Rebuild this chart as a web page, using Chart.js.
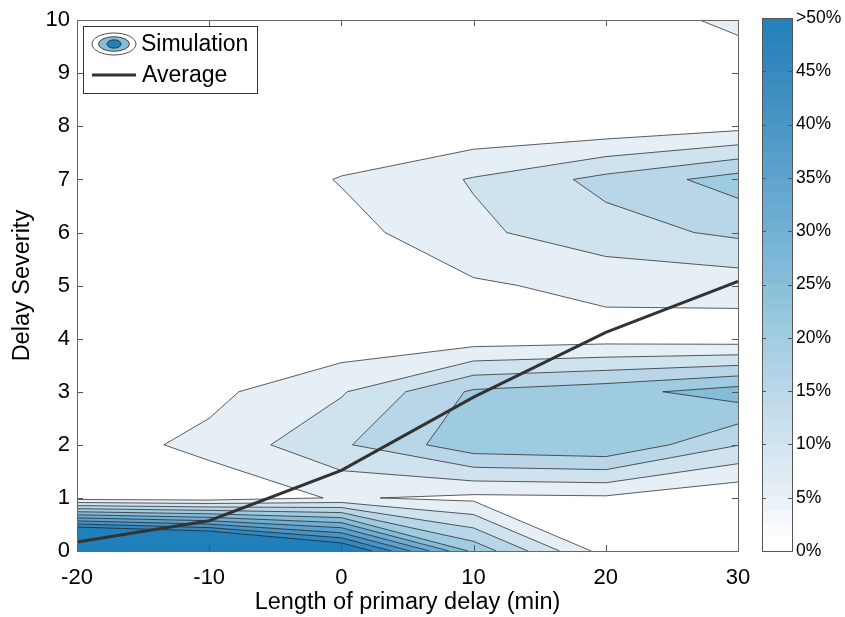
<!DOCTYPE html>
<html><head><meta charset="utf-8">
<script src="https://cdn.jsdelivr.net/npm/chart.js@4/dist/chart.umd.min.js"></script>
<style>
html,body{margin:0;padding:0;background:#fff;}
#wrap{position:relative;width:845px;height:617px;overflow:hidden;}
#main{position:absolute;left:0;top:0;}
#cb{position:absolute;left:700px;top:0;}
</style></head><body>
<div id="wrap"><canvas id="main" width="845" height="617"></canvas><canvas id="cb" width="145" height="617"></canvas></div>
<script>
// ---- data ----
const delayGrid = [-20, -10, 0, 10, 20, 30];            // x grid (min)
const severityGrid = [0, 1, 2, 3, 4, 5, 6, 7, 8, 9, 10]; // y grid
// share of simulations (%) at each (delay, severity) grid node, one row per severity
const pctSev0  = [89, 79, 58, 23.6, 2.7, 1.0];
const pctSev1  = [2.5, 1.9, 5.5, 3.8, 4.2, 0.65];
const pctSev2  = [2.5, 6.3, 14.25, 23.2, 24.5, 15.15];
const pctSev3  = [0.5, 3.7, 9.5, 20.8, 23.1, 27.5];
const pctSev4  = [0, 0.5, 1.3, 2.2, 3.0, 2.35];
const pctSev5  = [0, 0, 1.0, 4.3, 6.36, 7.0];
const pctSev6  = [0, 0, 3.03, 9.0, 13.0, 16.0];
const pctSev7  = [0, 0, 5.35, 10.4, 16.5, 22.2];
const pctSev8  = [0, 0, 0, 0.93, 1.4, 3.5];
const pctSev9  = [0, 0, 0, 0, 0.5, 0];
const pctSev10 = [0, 0, 0, 0, 0, 7.0];
const contourLevels = [5, 10, 15, 20, 25, 30, 35, 40, 45, 50];
const avgDelay    = [-20, -10, 0, 10, 20, 30];
const avgSeverity = [0.17, 0.57, 1.52, 2.9, 4.12, 5.08];
const colorbarTicks = [0, 5, 10, 15, 20, 25, 30, 35, 40, 45, 50];

const Z = [pctSev0, pctSev1, pctSev2, pctSev3, pctSev4, pctSev5, pctSev6, pctSev7, pctSev8, pctSev9, pctSev10];

// ---- colour map (0% white -> 50% blue) ----
const cmapStops = [
  [0, [255,255,255]], [5, [230,239,246]], [10, [207,227,239]], [15, [184,214,231]],
  [20, [158,203,224]], [25, [133,189,216]], [30, [111,174,210]], [35, [92,161,203]],
  [40, [72,148,196]], [45, [52,136,190]], [50, [32,128,185]]
];
function cmap(v) {
  v = Math.max(0, Math.min(50, v));
  for (let k = 0; k < cmapStops.length - 1; k++) {
    const [a, ca] = cmapStops[k], [b, cb] = cmapStops[k + 1];
    if (v <= b) {
      const t = (v - a) / (b - a);
      return 'rgb(' + ca.map((c, i) => Math.round(c + t * (cb[i] - c))).join(',') + ')';
    }
  }
  return 'rgb(32,128,185)';
}

const FONT = '"Liberation Sans", Arial, Helvetica, sans-serif';

// ---- contour plugin (marching squares, drawn through the chart scales) ----
function clipCell(pts, L) {
  const out = [];
  for (let k = 0; k < 4; k++) {
    const P = pts[k], Q = pts[(k + 1) % 4];
    const pin = P[2] >= L, qin = Q[2] >= L;
    if (pin) out.push([P[0], P[1], false]);
    if (pin !== qin) {
      const t = (L - P[2]) / (Q[2] - P[2]);
      out.push([P[0] + t * (Q[0] - P[0]), P[1] + t * (Q[1] - P[1]), true]);
    }
  }
  return out;
}
const contourPlugin = {
  id: 'contourFill',
  beforeDatasetsDraw(chart) {
    const { ctx, chartArea: a, scales: { x, y } } = chart;
    const px = v => x.getPixelForValue(v), py = v => y.getPixelForValue(v);
    ctx.save();
    ctx.beginPath(); ctx.rect(a.left, a.top, a.right - a.left, a.bottom - a.top); ctx.clip();
    const segs = [];
    for (const L of contourLevels) {
      ctx.beginPath();
      for (let j = 0; j < severityGrid.length - 1; j++) {
        for (let i = 0; i < delayGrid.length - 1; i++) {
          const pts = [
            [delayGrid[i], severityGrid[j], Z[j][i]],
            [delayGrid[i + 1], severityGrid[j], Z[j][i + 1]],
            [delayGrid[i + 1], severityGrid[j + 1], Z[j + 1][i + 1]],
            [delayGrid[i], severityGrid[j + 1], Z[j + 1][i]]
          ];
          const poly = clipCell(pts, L);
          if (poly.length < 3) continue;
          ctx.moveTo(px(poly[0][0]), py(poly[0][1]));
          for (let k = 1; k < poly.length; k++) ctx.lineTo(px(poly[k][0]), py(poly[k][1]));
          ctx.closePath();
          for (let k = 0; k < poly.length; k++) {
            const p = poly[k], q = poly[(k + 1) % poly.length];
            if (p[2] && q[2]) segs.push([px(p[0]), py(p[1]), px(q[0]), py(q[1])]);
          }
        }
      }
      ctx.fillStyle = cmap(L);
      ctx.fill('nonzero');
    }
    ctx.beginPath();
    for (const s of segs) { ctx.moveTo(s[0], s[1]); ctx.lineTo(s[2], s[3]); }
    ctx.strokeStyle = 'rgba(30,30,30,0.8)';
    ctx.lineWidth = 0.9;
    ctx.stroke();
    ctx.restore();
  }
};

// ---- frame with inward ticks, legend ----
const framePlugin = {
  id: 'frame',
  afterDatasetsDraw(chart) {
    const { ctx, chartArea: a, scales: { x, y } } = chart;
    ctx.save();
    ctx.strokeStyle = '#555';
    ctx.lineWidth = 1;
    ctx.beginPath();
    for (const t of x.ticks) {
      const p = Math.round(x.getPixelForValue(t.value)) + 0.5;
      ctx.moveTo(p, a.bottom); ctx.lineTo(p, a.bottom - 6);
      ctx.moveTo(p, a.top); ctx.lineTo(p, a.top + 6);
    }
    for (const t of y.ticks) {
      const p = Math.round(y.getPixelForValue(t.value)) + 0.5;
      ctx.moveTo(a.left, p); ctx.lineTo(a.left + 6, p);
      ctx.moveTo(a.right, p); ctx.lineTo(a.right - 6, p);
    }
    ctx.stroke();
    ctx.strokeStyle = '#666';
    ctx.strokeRect(Math.round(a.left) + 0.5, Math.round(a.top) + 0.5, Math.round(a.right - a.left), Math.round(a.bottom - a.top));
    ctx.restore();
  },
  afterDraw(chart) {
    const { ctx } = chart;
    ctx.save();
    ctx.fillStyle = '#fff';
    ctx.fillRect(83, 26, 174, 67);
    ctx.strokeStyle = '#333';
    ctx.lineWidth = 1;
    ctx.strokeRect(83.5, 26.5, 174, 67);
    const cx = 114, cy = 44;
    const ell = (rx, ry, fill) => {
      ctx.beginPath(); ctx.ellipse(cx, cy, rx, ry, 0, 0, Math.PI * 2);
      ctx.fillStyle = fill; ctx.fill();
      ctx.strokeStyle = '#222'; ctx.lineWidth = 0.8; ctx.stroke();
    };
    ell(22, 11, '#ffffff');
    ell(15.5, 7.3, cmap(25));
    ell(7, 4.2, cmap(50));
    ctx.beginPath(); ctx.moveTo(92, 75); ctx.lineTo(136, 75);
    ctx.strokeStyle = '#333'; ctx.lineWidth = 3; ctx.stroke();
    ctx.fillStyle = '#000';
    ctx.font = '23px ' + FONT;
    ctx.textBaseline = 'middle';
    ctx.textAlign = 'left';
    ctx.fillText(chart.data.datasets[1].label, 141, 45);
    ctx.fillText(chart.data.datasets[0].label, 142, 76);
    ctx.restore();
  }
};

new Chart(document.getElementById('main'), {
  type: 'scatter',
  data: {
    datasets: [{
      label: 'Average',
      data: avgDelay.map((d, i) => ({ x: d, y: avgSeverity[i] })),
      showLine: true,
      borderColor: '#333333',
      borderWidth: 3,
      pointRadius: 0,
      tension: 0
    }, {
      label: 'Simulation',
      data: [],
      showLine: false,
      pointRadius: 0
    }]
  },
  options: {
    responsive: false,
    animation: false,
    events: [],
    layout: { padding: { left: 0, right: 107, top: 18, bottom: 0 } },
    plugins: { legend: { display: false }, tooltip: { enabled: false } },
    scales: {
      x: {
        type: 'linear', min: -20, max: 30,
        afterFit: s => { s.height = 66; },
        afterBuildTicks: s => { s.ticks = [-20, -10, 0, 10, 20, 30].map(v => ({ value: v })); },
        ticks: { color: '#000', font: { family: FONT, size: 22 }, padding: 14 },
        grid: { display: false, drawTicks: false },
        border: { display: false },
        title: { display: true, text: 'Length of primary delay (min)', color: '#000',
                 font: { family: FONT, size: 23.5 }, padding: { top: 0, bottom: 0 } }
      },
      y: {
        type: 'linear', min: 0, max: 10,
        afterFit: s => { s.width = 77; },
        ticks: { stepSize: 1, color: '#000', font: { family: FONT, size: 22 }, padding: 7 },
        grid: { display: false, drawTicks: false },
        border: { display: false },
        title: { display: true, text: 'Delay Severity', color: '#000',
                 font: { family: FONT, size: 23.5 }, padding: { top: 8, bottom: 0 } }
      }
    }
  },
  plugins: [contourPlugin, framePlugin]
});

// ---- colour bar ----
const cbStep = 1.25;
const cbSets = [];
for (let v = 0; v < 50 - 1e-9; v += cbStep) {
  cbSets.push({ data: [cbStep], backgroundColor: cmap(v), borderWidth: 0,
                barPercentage: 1, categoryPercentage: 1 });
}
const cbFrame = {
  id: 'cbFrame',
  afterDatasetsDraw(chart) {
    const { ctx, chartArea: a, scales: { y } } = chart;
    ctx.save();
    ctx.strokeStyle = '#555'; ctx.lineWidth = 1;
    ctx.beginPath();
    for (const t of colorbarTicks) {
      const p = Math.round(y.getPixelForValue(t)) + 0.5;
      ctx.moveTo(a.left, p); ctx.lineTo(a.left + 4, p);
      ctx.moveTo(a.right, p); ctx.lineTo(a.right - 4, p);
    }
    ctx.stroke();
    ctx.strokeRect(Math.round(a.left) + 0.5, Math.round(a.top) + 0.5, Math.round(a.right - a.left), Math.round(a.bottom - a.top));
    ctx.restore();
  }
};
new Chart(document.getElementById('cb'), {
  type: 'bar',
  data: { labels: [''], datasets: cbSets },
  options: {
    responsive: false, animation: false, events: [],
    layout: { padding: { left: 62, right: 0, top: 18, bottom: 66 } },
    plugins: { legend: { display: false }, tooltip: { enabled: false } },
    scales: {
      x: { display: false, stacked: true },
      y: {
        stacked: true, position: 'right', min: 0, max: 50,
        afterFit: s => { s.width = 53; },
        afterBuildTicks: s => { s.ticks = colorbarTicks.map(v => ({ value: v })); },
        ticks: { color: '#000', font: { family: FONT, size: 17.5 },
                 callback: v => (v === 50 ? '>50%' : v + '%'), padding: 4 },
        grid: { display: false, drawTicks: false },
        border: { display: false }
      }
    }
  },
  plugins: [cbFrame]
});
</script>
</body></html>
